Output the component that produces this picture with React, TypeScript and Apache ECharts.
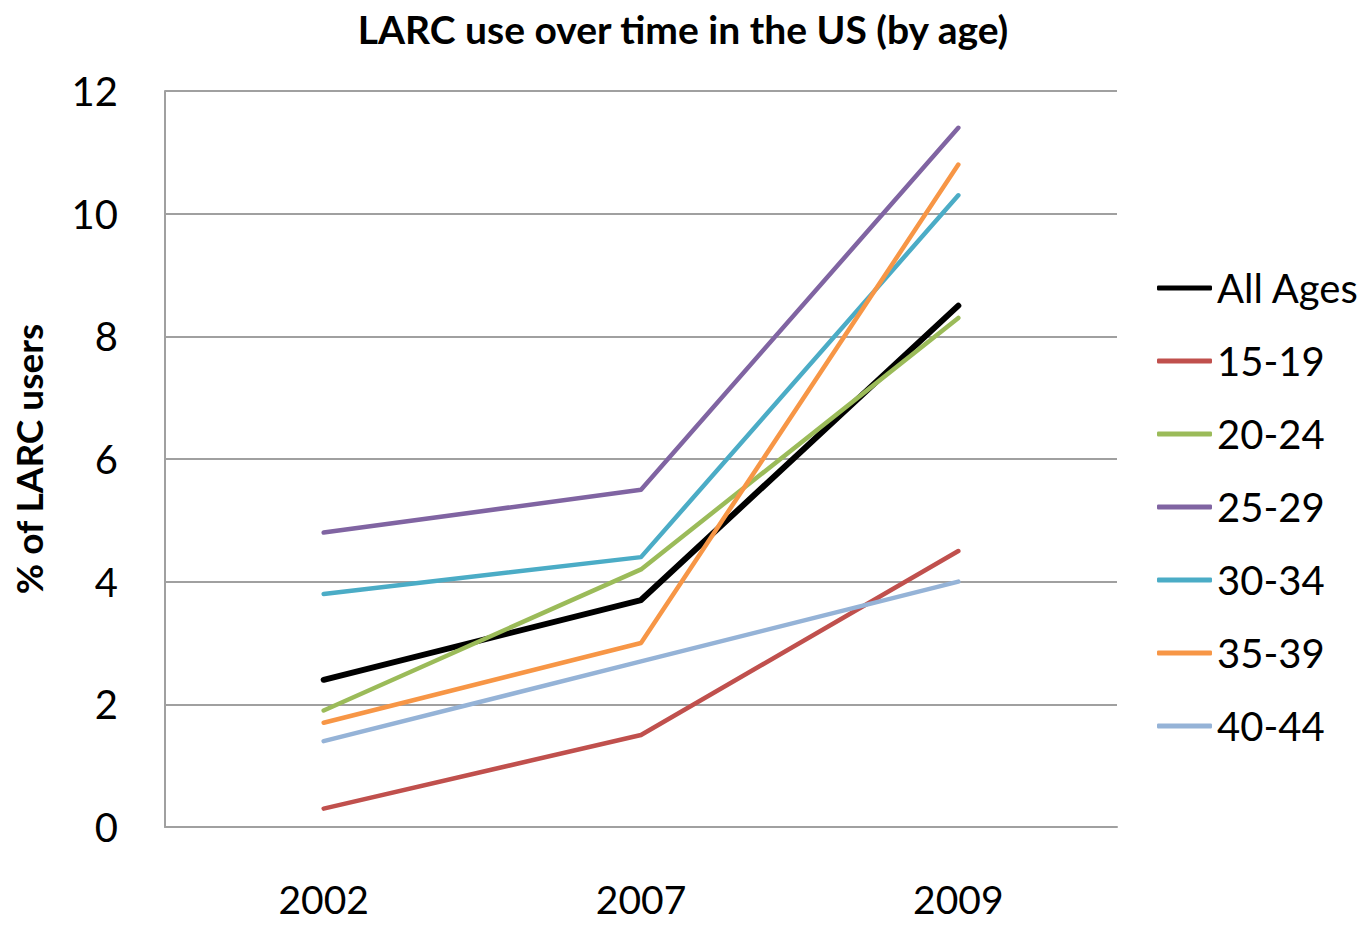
import React, { useEffect, useRef } from "react";
import * as echarts from "echarts";

const years = ["2002", "2007", "2009"];
const allAges = [2.4, 3.7, 8.5];
const age1519 = [0.3, 1.5, 4.5];
const age2024 = [1.9, 4.2, 8.3];
const age2529 = [4.8, 5.5, 11.4];
const age3034 = [3.8, 4.4, 10.3];
const age3539 = [1.7, 3.0, 10.8];
const age4044 = [1.4, 2.7, 4.0];

const seriesDefs = [
  { name: "All Ages", data: allAges, color: "#000000", width: 6 },
  { name: "15-19", data: age1519, color: "#C0504D", width: 4.5 },
  { name: "20-24", data: age2024, color: "#9BBB59", width: 4.5 },
  { name: "25-29", data: age2529, color: "#8064A2", width: 4.5 },
  { name: "30-34", data: age3034, color: "#4BACC6", width: 4.5 },
  { name: "35-39", data: age3539, color: "#F79646", width: 4.5 },
  { name: "40-44", data: age4044, color: "#95B3D7", width: 4.5 },
];

const FONT = "Lato, 'Open Sans', sans-serif";

export default function App() {
  const ref = useRef<HTMLDivElement>(null);
  useEffect(() => {
    if (!ref.current) return;
    const chart = echarts.init(ref.current, undefined, { renderer: "svg" });
    chart.setOption({
      animation: false,
      backgroundColor: "#ffffff",
      title: {
        text: "LARC use over time in the US (by age)",
        left: 678,
        textAlign: "center",
        top: 4,
        textStyle: { fontFamily: FONT, fontSize: 39, fontWeight: "bold", color: "#000" },
      },
      legend: {
        orient: "vertical",
        left: 1152,
        top: 263,
        itemWidth: 55,
        itemHeight: 5,
        itemGap: 33,
        icon: "roundRect",
        data: seriesDefs.map((s) => s.name),
        textStyle: { fontFamily: FONT, fontSize: 40, color: "#000", lineHeight: 40 },
      },
      grid: { left: 165, right: 255, top: 91, bottom: 98, containLabel: false },
      xAxis: {
        type: "category",
        data: years,
        boundaryGap: true,
        axisLine: { lineStyle: { color: "#A0A0A0", width: 2 } },
        axisTick: { show: false },
        axisLabel: { fontFamily: FONT, fontSize: 39, color: "#000", margin: 55, lineHeight: 34 },
        splitLine: { show: false },
      },
      yAxis: {
        type: "value",
        min: 0,
        max: 12,
        interval: 2,
        name: "% of LARC users",
        nameLocation: "middle",
        nameGap: 118,
        nameRotate: 90,
        nameTextStyle: { fontFamily: FONT, fontSize: 37, fontWeight: "bold", color: "#000" },
        axisLine: { show: true, lineStyle: { color: "#A0A0A0", width: 2 } },
        axisTick: { show: false },
        axisLabel: { fontFamily: FONT, fontSize: 40, color: "#000", margin: 47 },
        splitLine: { lineStyle: { color: "#A0A0A0", width: 2 } },
      },
      series: seriesDefs.map((s) => ({
        name: s.name,
        type: "line",
        data: s.data,
        symbol: "none",
        color: s.color,
        lineStyle: { color: s.color, width: s.width, cap: "round", join: "round" },
        itemStyle: { color: s.color },
      })),
    });
    return () => chart.dispose();
  }, []);
  return (
    <div
      ref={ref}
      style={{ position: "fixed", left: 0, top: 0, width: 1372, height: 925 }}
    />
  );
}
